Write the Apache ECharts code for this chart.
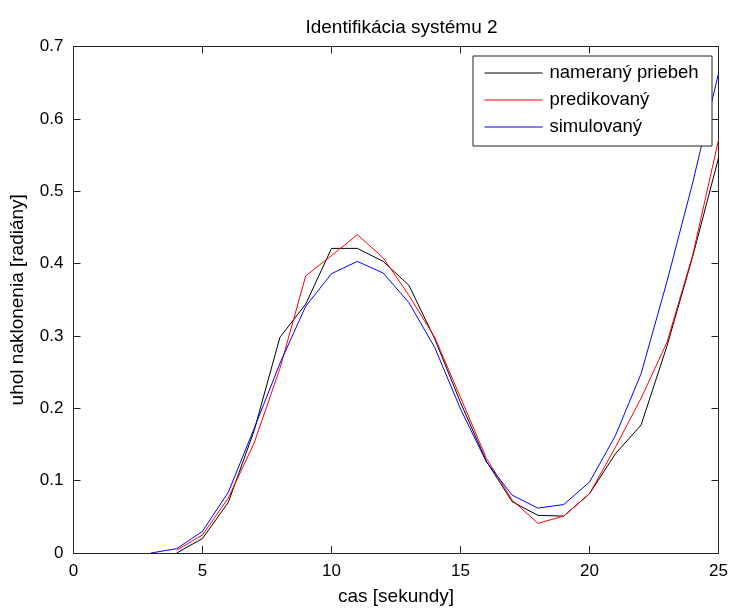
<!DOCTYPE html>
<html>
<head>
<meta charset="utf-8">
<script src="https://cdn.jsdelivr.net/npm/echarts@6/dist/echarts.min.js"></script>
<style>
html,body{margin:0;padding:0;background:#fff;}
#c{width:731px;height:611px;}
</style>
</head>
<body>
<div id="c"></div>
<script>
const times = [3,4,5,6,7,8,9,10,11,12,13,14,15,16,17,18,19,20,21,22,23,24,25];
const nameraný = [null,0.0,0.02,0.07,0.169,0.298,0.344,0.421,0.421,0.403,0.37,0.296,0.208,0.127,0.071,0.052,0.051,0.082,0.137,0.177,0.286,0.41,0.546];
const predikovaný = [null,0.004,0.025,0.076,0.152,0.255,0.383,0.411,0.44,0.408,0.356,0.298,0.215,0.131,0.073,0.041,0.051,0.082,0.146,0.214,0.291,0.412,0.571];
const simulovaný = [0.0,0.006,0.03,0.084,0.172,0.262,0.341,0.386,0.403,0.387,0.346,0.284,0.199,0.126,0.08,0.062,0.067,0.098,0.162,0.248,0.375,0.512,0.663];
const seriesNames = ['nameraný priebeh','predikovaný','simulovaný'];
const xTicks = ['0','5','10','15','20','25'];
const yTicks = ['0','0.1','0.2','0.3','0.4','0.5','0.6','0.7'];

const font = '"Liberation Sans", Arial, sans-serif';
const axisCol = '#222';
function pairs(v){ return times.map((t,i)=>[t, v[i]]); }

const chart = echarts.init(document.getElementById('c'), null, {renderer:'canvas'});
const baseAxis = {
  type:'value',
  axisLine:{show:true, onZero:false, lineStyle:{color:axisCol, width:1}},
  axisTick:{show:true, inside:true, length:7, lineStyle:{color:axisCol, width:1}},
  splitLine:{show:false}
};
chart.setOption({
  animation:false,
  backgroundColor:'#fff',
  title:{
    text:'Identifikácia systému 2',
    left:396.5, top:13, textAlign:'center',
    textStyle:{fontFamily:font, fontSize:19, fontWeight:'normal', color:'#000'}
  },
  grid:{left:73.5, right:10.5, top:46.5, bottom:56.5, containLabel:false},
  xAxis:[
    Object.assign({}, baseAxis, {
      min:0, max:25, interval:5, position:'bottom',
      name:'cas [sekundy]', nameLocation:'middle', nameGap:34,
      nameTextStyle:{fontFamily:font, fontSize:19, color:'#000'},
      axisLabel:{fontFamily:font, fontSize:17, color:'#000', margin:9.5,
        formatter:(v)=>xTicks[Math.round(v/5)] }
    }),
    Object.assign({}, baseAxis, {
      min:0, max:25, interval:5, position:'top', axisLabel:{show:false}
    })
  ],
  yAxis:[
    Object.assign({}, baseAxis, {
      min:0, max:0.7, interval:0.1, position:'left',
      name:'uhol naklonenia [radiány]', nameLocation:'middle', nameGap:46,
      nameTextStyle:{fontFamily:font, fontSize:19, color:'#000'},
      axisLabel:{fontFamily:font, fontSize:17, color:'#000', margin:10,
        formatter:(v)=>yTicks[Math.round(v*10)] }
    }),
    Object.assign({}, baseAxis, {
      min:0, max:0.7, interval:0.1, position:'right', axisLabel:{show:false}
    })
  ],
  legend:{
    orient:'vertical', left:484, top:63.5, padding:0,
    itemWidth:58, itemHeight:14, itemGap:8,
    itemStyle:{opacity:0},
    lineStyle:{width:1},
    z:20,
    data:seriesNames,
    textStyle:{fontFamily:font, fontSize:18.5, color:'#000', padding:[0,0,0,2]}
  },
  graphic:[{
    type:'rect', z:15,
    shape:{x:473, y:56, width:239, height:90},
    style:{fill:'#fff', stroke:axisCol, lineWidth:1}
  }],
  series:[
    {name:seriesNames[0], type:'line', data:pairs(nameraný), symbol:'none', color:'#000',
     lineStyle:{color:'#000', width:1}},
    {name:seriesNames[1], type:'line', data:pairs(predikovaný), symbol:'none', color:'#ff0000',
     lineStyle:{color:'#ff0000', width:1}},
    {name:seriesNames[2], type:'line', data:pairs(simulovaný), symbol:'none', color:'#0000ff',
     lineStyle:{color:'#0000ff', width:1}}
  ]
});
</script>
</body>
</html>
